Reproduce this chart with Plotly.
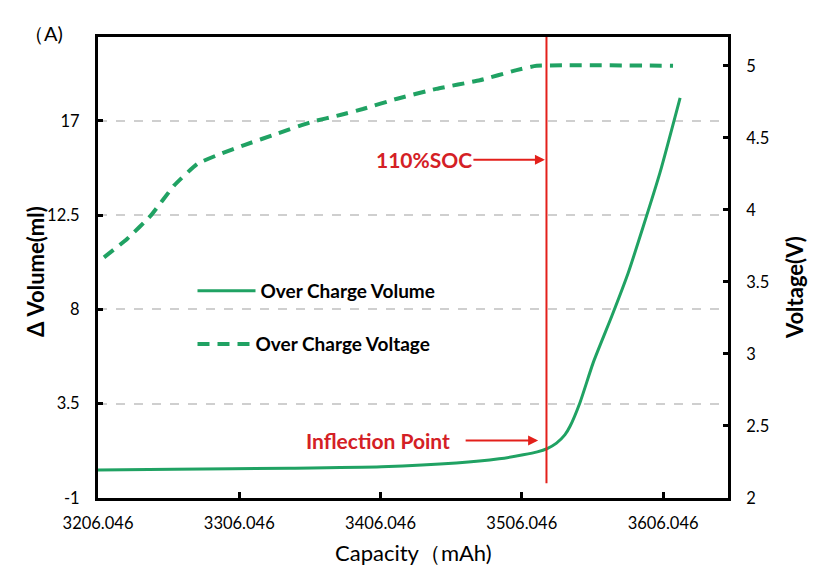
import plotly.graph_objects as go

# over charge volume curve
cap_vol = [3206.046, 3260, 3341.5, 3406.8, 3459.7, 3490, 3507, 3517, 3524,
           3530.6, 3536.5, 3540.1, 3547.2, 3556.6, 3569.7, 3581.4, 3592.1,
           3603.9, 3618.1]
volume = [0.34, 0.37, 0.42, 0.49, 0.67, 0.87, 1.06, 1.2, 1.36,
          1.62, 2.01, 2.41, 3.55, 5.46, 7.67, 9.75, 11.98,
          14.54, 18.1]

# over charge voltage curve
cap_volt = [3210.3, 3226.8, 3243.4, 3260, 3276.5, 3293, 3309.6, 3333.2,
            3356.9, 3378.2, 3393.5, 3417.2, 3445.5, 3476.3, 3502.3, 3516.5,
            3613.1]
voltage = [3.67, 3.80, 3.96, 4.17, 4.32, 4.39, 4.45, 4.53,
           4.61, 4.66, 4.70, 4.77, 4.84, 4.90, 4.97, 5.0,
           5.0]

x_ticks = [3206.046, 3306.046, 3406.046, 3506.046, 3606.046]
vol_ticks = [-1, 3.5, 8, 12.5, 17]
volt_ticks = [2, 2.5, 3, 3.5, 4, 4.5, 5]

soc_cap = 3523.5          # 110% SOC line
inflection = (3517.6, 1.74)
soc_arrow = (3522.4, 15.14)

green = "#20a263"
red = "#e3201b"
txt_red = "#d42025"
font = "Lato"

fig = go.Figure()
fig.add_trace(go.Scatter(
    x=cap_vol, y=volume, mode="lines", name="Over Charge Volume",
    line=dict(color=green, width=3, shape="spline", smoothing=0.6),
    legend="legend", showlegend=True,
))
fig.add_trace(go.Scatter(
    x=cap_volt, y=voltage, mode="lines", name="Over Charge Voltage",
    line=dict(color=green, width=4, dash="12px,8px", shape="spline", smoothing=0.4),
    yaxis="y2", legend="legend2", showlegend=True,
))

fig.add_shape(type="line", xref="x", yref="y", x0=soc_cap, x1=soc_cap,
              y0=-0.3, y1=21, line=dict(color=red, width=2))

red_font = dict(size=21, color=txt_red, family=font, weight=700)
annos = [
    dict(x=soc_arrow[0], y=soc_arrow[1], xref="x", yref="y", text="110%SOC",
         showarrow=True, ax=-121, ay=0, arrowhead=2, arrowsize=1, arrowwidth=2,
         arrowcolor=red, font=red_font),
    dict(x=inflection[0], y=inflection[1], xref="x", yref="y", text="Inflection Point",
         showarrow=True, ax=-160, ay=0, arrowhead=2, arrowsize=1, arrowwidth=2,
         startstandoff=14, arrowcolor=red, font=red_font),
    dict(x=-0.1, y=0.49, xref="paper", yref="paper", text="Δ Volume(ml)",
         textangle=-90, showarrow=False, xanchor="center", yanchor="middle",
         font=dict(size=22, color="black", family=font, weight=700)),
    dict(x=1.106, y=0.457, xref="paper", yref="paper", text="Voltage(V)",
         textangle=-90, showarrow=False, xanchor="center", yanchor="middle",
         font=dict(size=22, color="black", family=font, weight=700)),
    dict(x=0.5, y=-0.119, xref="paper", yref="paper", text="Capacity（mAh)",
         showarrow=False, xanchor="center", yanchor="middle",
         font=dict(size=22, color="black", family=font)),
    dict(x=-0.087, y=1.008, xref="paper", yref="paper", text="（A)",
         showarrow=False, xanchor="center", yanchor="middle",
         font=dict(size=20, color="black", family=font)),
]

legend_font = dict(size=19, family=font, weight=700, color="black")

# page has an 8px body margin, so the figure is drawn 8px smaller
fig.update_layout(
    width=827, height=572,
    margin=dict(l=90, r=107, t=29, b=82),
    paper_bgcolor="white", plot_bgcolor="white",
    font=dict(family=font, size=16.5, color="black"),
    showlegend=True,
    annotations=annos,
    legend=dict(x=0.15, y=0.449, xanchor="left", yanchor="middle",
                bgcolor="rgba(0,0,0,0)", itemwidth=58, font=legend_font),
    legend2=dict(x=0.15, y=0.334, xanchor="left", yanchor="middle",
                 bgcolor="rgba(0,0,0,0)", itemwidth=53, font=legend_font),
    xaxis=dict(range=[3206.046, 3652], tickvals=x_ticks,
               ticktext=[f"{v:.3f}" for v in x_ticks],
               showline=True, linewidth=3, linecolor="black", mirror=True,
               ticks="inside", ticklen=6, tickwidth=3, tickcolor="black",
               showgrid=False, zeroline=False, ticklabelstandoff=8),
    yaxis=dict(range=[-1, 21], tickvals=vol_ticks,
               ticktext=[f"{v:g}" for v in vol_ticks],
               showline=True, linewidth=3, linecolor="black",
               ticks="inside", ticklen=5, tickwidth=3, tickcolor="black",
               showgrid=True, gridcolor="#cfcfcf", griddash="dash", gridwidth=1.5,
               zeroline=False, ticklabelstandoff=12),
    yaxis2=dict(range=[2, 5.2], tickvals=volt_ticks,
                ticktext=[f"{v:g}" for v in volt_ticks],
                overlaying="y", side="right",
                showline=True, linewidth=3, linecolor="black",
                ticks="inside", ticklen=5, tickwidth=3, tickcolor="black",
                showgrid=False, zeroline=False, ticklabelstandoff=12),
)

fig.write_html("out.html")
